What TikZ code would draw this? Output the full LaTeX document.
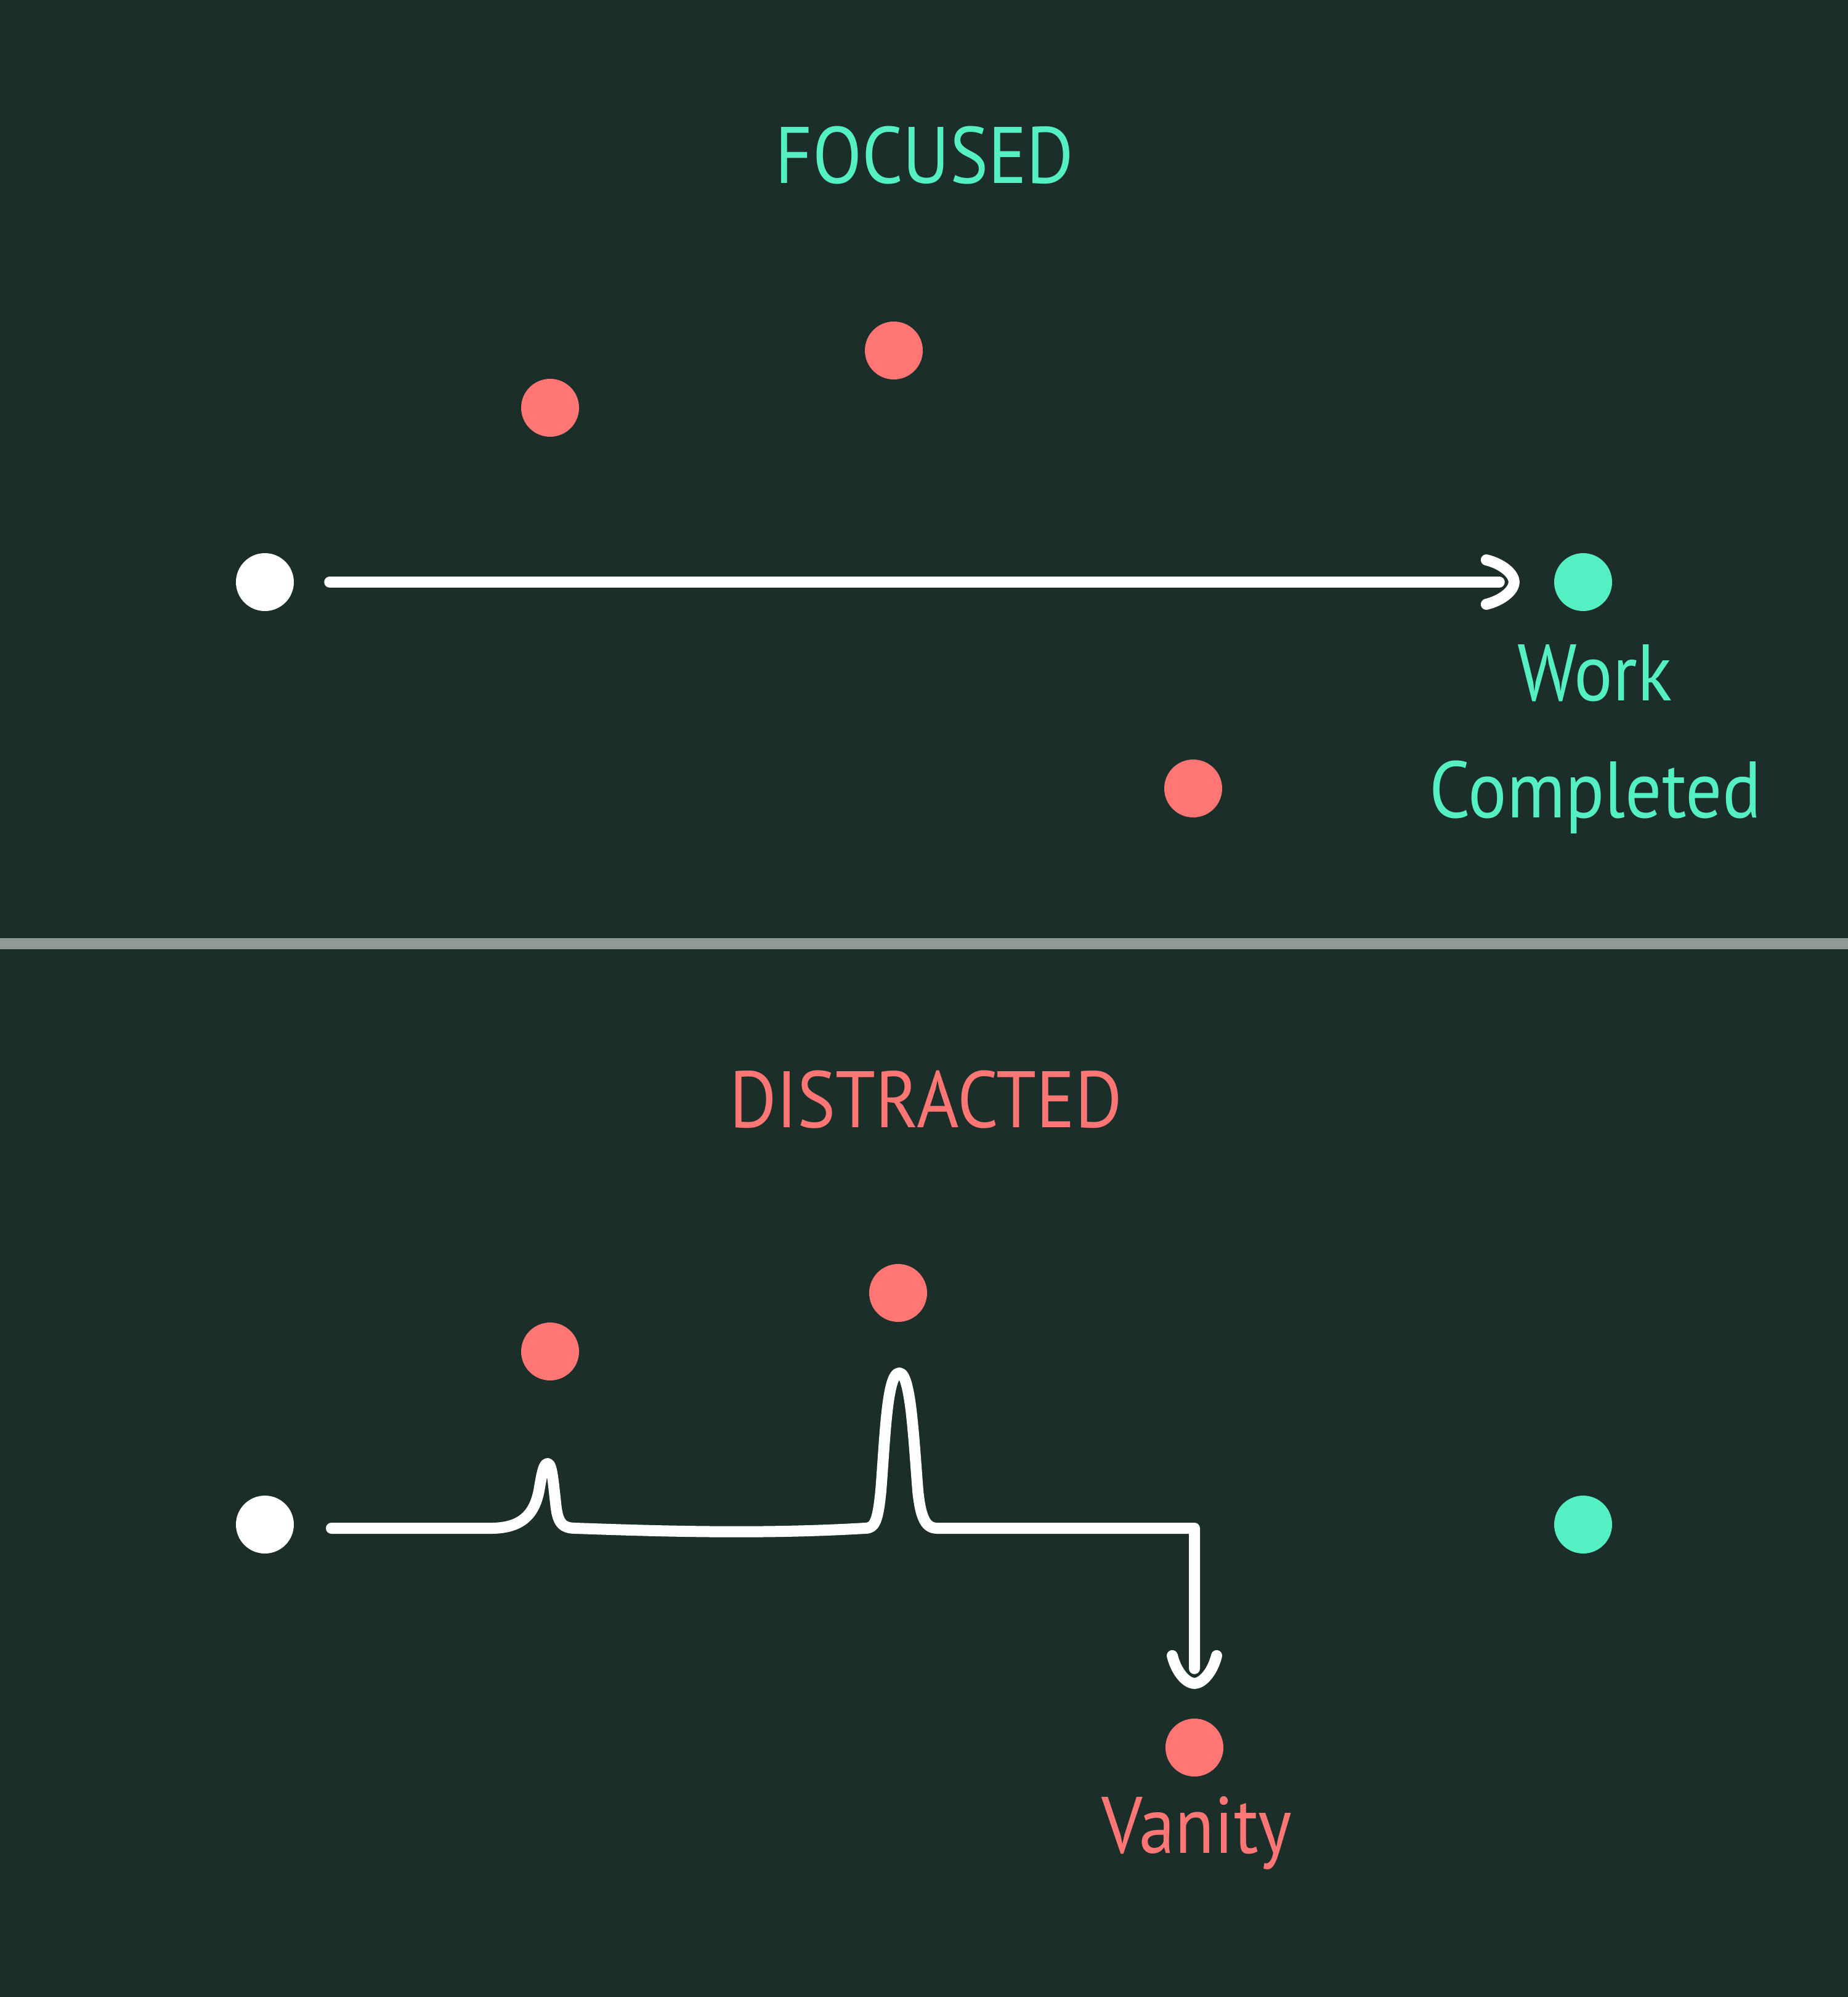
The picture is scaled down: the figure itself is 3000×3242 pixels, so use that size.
\documentclass[tikz,border=0pt]{standalone}
\usepackage{fontspec}
\newfontfamily\hand[FakeStretch=0.9]{PT Sans}
\usetikzlibrary{calc}
\definecolor{bg}{RGB}{28,46,42}
\definecolor{teal}{HTML}{55EFC4}
\definecolor{coral}{HTML}{FF7675}
\definecolor{divider}{HTML}{8F9A97}
\tikzset{
  dot/.style={circle,inner sep=0pt,minimum size=94pt},
  reddot/.style={dot,fill=coral},
  tealdot/.style={dot,fill=teal},
  whitedot/.style={dot,fill=white},
  wire/.style={draw=white,line width=18pt,line cap=round,line join=round},
  label/.style={inner sep=0pt,anchor=base,font=\hand\fontsize{130}{150}\selectfont},
  hookhead/.pic={\draw[wire] (-45,-36) .. controls (-20,-30) and (0,-14) .. (0,0) .. controls (0,14) and (-20,30) .. (-45,36);}
}
\begin{document}
\begin{tikzpicture}[x=1pt,y=-1pt]
\fill[bg] (0,0) rectangle (3000,3242);
\useasboundingbox (0,0) rectangle (3000,3242);
% divider
\draw[divider,line width=18pt] (0,1532) coordinate (dl) -- (3000,1532) coordinate (dr);
% top panel
\node[label,text=teal] (focused) at (1501,297) {FOCUSED};
\node[reddot] (r1) at (893,662) {};
\node[reddot] (r2) at (1451,569) {};
\node[reddot] (r3) at (1937,1280) {};
\node[whitedot] (w1) at (430,945) {};
\node[tealdot] (t1) at (2570,945) {};
\node[label,text=teal] (work) at (2589,1137) {Work};
\node[label,text=teal] (completed) at (2590,1327) {Completed};
\coordinate (tipA) at ($(t1.west)+(-65,0)$);
\draw[wire] ($(w1.east)+(58,0)$) -- ($(tipA)+(-24,0)$);
\pic at (tipA) {hookhead};
% bottom panel
\node[label,text=coral] (distracted) at (1503,1830) {DISTRACTED};
\node[reddot] (r4) at (893,2194) {};
\node[reddot] (r5) at (1458,2099) {};
\node[reddot] (r6) at (1939,2837) {};
\node[whitedot] (w2) at (430,2475) {};
\node[tealdot] (t2) at (2570,2475) {};
\node[label,text=coral] (vanity) at (1943,3008) {Vanity};
\coordinate (p0) at (538,2481);
\coordinate (tipB) at ($(r6.north)+(0,-57)$);
\draw[wire] (p0) -- (797,2481)
  .. controls (850,2481) and (868,2455) .. (875,2420)
  .. controls (880,2390) and (883,2376) .. (889,2376)
  .. controls (896,2376) and (898,2405) .. (902,2440)
  .. controls (905,2472) and (912,2481) .. (935,2481)
  .. controls (1100,2487) and (1250,2490) .. (1404,2481)
  .. controls (1420,2481) and (1425,2470) .. (1430,2420)
  .. controls (1437,2330) and (1440,2229) .. (1460,2229)
  .. controls (1478,2229) and (1483,2330) .. (1490,2420)
  .. controls (1495,2470) and (1505,2481) .. (1522,2481)
  -- (1939,2481) -- ($(tipB)+(0,-24)$);
\pic[rotate=-90] at (tipB) {hookhead};
\end{tikzpicture}
\end{document}
